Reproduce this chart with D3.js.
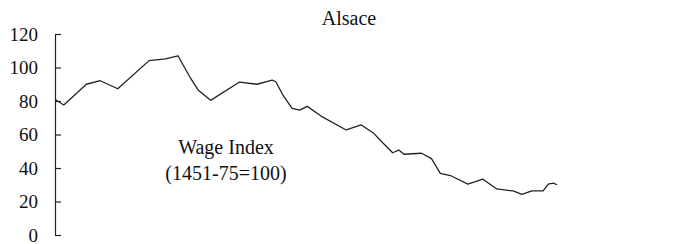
<!DOCTYPE html>
<html lang="en">
<head>
    <meta charset="UTF-8">
    <title>Alsace</title>
    <style>
        body { margin: 0; background: #fff; }
        text { font-family: "Liberation Serif", "Times New Roman", serif; fill: #111; }
    </style>
</head>
<body>
    <div class="canvas"></div>
    <script src="https://cdnjs.cloudflare.com/ajax/libs/d3/7.8.2/d3.min.js"></script>
    <script>
        // values (year, wage index)
        const years = [1400, 1402, 1407, 1425, 1436, 1450, 1475, 1488, 1498, 1508, 1514, 1524,
            1547, 1561, 1573, 1576, 1582, 1589, 1595, 1601, 1612, 1632, 1644, 1654, 1659,
            1669, 1674, 1678, 1692, 1700, 1707, 1715, 1729, 1741, 1752, 1765, 1772, 1780,
            1789, 1793, 1797, 1800];
        const wage = [81.0, 80.0, 77.6, 90.0, 92.1, 87.3, 104.1, 105.1, 107.0, 93.6, 86.6, 80.4,
            91.3, 90.0, 92.5, 91.5, 83.0, 75.6, 74.6, 76.8, 71.0, 62.7, 65.7, 60.7, 56.7,
            49.1, 50.7, 48.2, 48.8, 45.6, 36.8, 35.5, 30.4, 33.3, 27.5, 26.3, 24.3, 26.3,
            26.3, 30.4, 31.0, 30.0];
        const yTicks = [0, 20, 40, 60, 80, 100, 120];

        const width = 680;
        const height = 244;

        const svg = d3.select(".canvas").append("svg")
            .attr("width", width)
            .attr("height", height);

        const x = d3.scaleLinear().domain([1400, 1800]).range([55, 557]);
        const y = d3.scaleLinear().domain([0, 120]).range([235, 34]);

        const yAxis = d3.axisLeft(y)
            .tickValues(yTicks)
            .tickSizeInner(-6)
            .tickSizeOuter(0)
            .tickPadding(17);

        const yAxisGroup = svg.append("g").attr("transform", "translate(55,0)").call(yAxis);
        yAxisGroup.selectAll("path, line").attr("stroke", "#222").attr("stroke-width", 1.2);
        yAxisGroup.selectAll("text").attr("font-size", "19px")
            .attr("font-family", "Liberation Serif, serif").attr("fill", "#111");

        const line = d3.line()
            .x((d, i) => x(years[i]))
            .y(d => y(d));

        svg.append("path")
            .datum(wage)
            .attr("d", line)
            .attr("fill", "none")
            .attr("stroke", "#222")
            .attr("stroke-width", 1.3)
            .attr("stroke-linejoin", "round");

        svg.append("text")
            .attr("x", 349).attr("y", 25)
            .attr("text-anchor", "middle")
            .attr("font-size", "20px")
            .text("Alsace");

        const note = svg.append("text")
            .attr("text-anchor", "middle")
            .attr("font-size", "20px");
        note.append("tspan").attr("x", 226).attr("y", 154).text("Wage Index");
        note.append("tspan").attr("x", 226).attr("y", 180).text("(1451-75=100)");
    </script>
</body>
</html>
